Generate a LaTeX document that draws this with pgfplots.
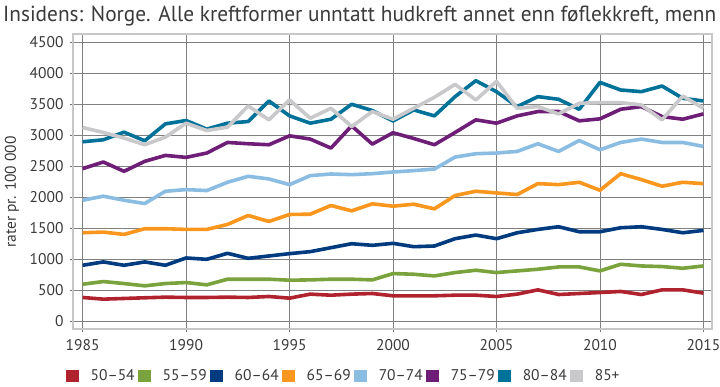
\documentclass[border=0pt]{standalone}
\usepackage{pgfplots}
\pgfplotsset{compat=1.18}
\usepackage{pgfplotstable}
\usepackage{fontspec}
\setmainfont{PT Sans}
\definecolor{cRed}{HTML}{B0232E}
\definecolor{cGreen}{HTML}{7AA33E}
\definecolor{cNavy}{HTML}{003B7F}
\definecolor{cOrange}{HTML}{F8961D}
\definecolor{cLight}{HTML}{8BBDE3}
\definecolor{cPurple}{HTML}{6E1E76}
\definecolor{cTeal}{HTML}{00729A}
\definecolor{cGray}{HTML}{C9C9CB}
\definecolor{txt}{HTML}{3A3A3A}

\pgfplotstableread{
year a5054 a5559 a6064 a6569 a7074 a7579 a8084 a85
1985 380 594 900 1425 1950 2460 2894 3124
1986 353 637 954 1436 2015 2567 2926 3044
1987 364 605 900 1398 1950 2417 3049 2953
1988 375 568 954 1490 1897 2578 2910 2846
1989 385 605 900 1490 2095 2674 3183 2969
1990 380 621 1018 1479 2122 2642 3237 3194
1991 380 584 996 1479 2106 2712 3098 3076
1992 385 675 1093 1559 2240 2883 3194 3130
1993 380 675 1012 1704 2336 2862 3221 3473
1994 396 675 1050 1607 2294 2846 3553 3248
1995 369 659 1088 1720 2202 2990 3312 3569
1996 434 664 1120 1725 2347 2937 3194 3274
1997 417 675 1184 1865 2374 2792 3258 3435
1998 434 675 1248 1779 2363 3151 3500 3140
1999 444 664 1222 1892 2379 2856 3398 3382
2000 407 766 1254 1854 2406 3040 3230 3258
2001 407 755 1200 1886 2428 2947 3408 3435
2002 407 728 1211 1811 2454 2846 3312 3612
2003 417 782 1329 2026 2647 3044 3623 3821
2004 417 820 1388 2095 2701 3248 3880 3569
2005 396 782 1329 2068 2712 3194 3703 3869
2006 434 809 1425 2042 2738 3312 3462 3435
2007 503 836 1479 2218 2862 3382 3623 3462
2008 428 873 1522 2202 2738 3382 3580 3344
2009 444 873 1441 2240 2915 3232 3419 3516
2010 460 809 1441 2111 2765 3264 3853 3526
2011 477 916 1506 2379 2883 3419 3730 3526
2012 428 889 1522 2283 2937 3462 3703 3489
2013 503 879 1479 2176 2883 3301 3794 3248
2014 503 852 1425 2240 2883 3258 3596 3633
2015 450 889 1463 2218 2819 3344 3553 3435
}\datatable

\begin{document}
\begin{tikzpicture}[x=1bp,y=1bp]
\path[use as bounding box] (0,0) rectangle (720,386);
\node[anchor=base west, inner sep=0pt, text=txt] at (3,364.3)
  {\resizebox{713bp}{15.5bp}{Insidens: Norge. Alle kreftformer unntatt hudkreft annet enn føflekkreft, menn}};
\begin{axis}[
  at={(72.7bp,57bp)}, anchor=south west,
  scale only axis, width=639bp, height=295bp,
  xmin=1984.52, xmax=2015.4, ymin=-129, ymax=4634,
  xtick={1985,1990,...,2015}, ytick={0,500,...,4500},
  xtick pos=bottom, ytick pos=left,
  tick align=outside, major tick length=3bp,
  tick style={black!55, line width=0.8bp},
  grid=major, grid style={black!50, line width=0.8bp},
  axis line style={draw=black!22, line width=1.6bp},
  /pgf/number format/assume math mode=true,
  /pgf/number format/1000 sep={},
  tick label style={font=\fontsize{15.5bp}{18bp}\selectfont, text=txt},
  yticklabel style={inner sep=0pt, xshift=-6bp},
  xticklabel style={inner sep=0pt, yshift=-7bp},
  legend columns=8,
  legend style={at={(-0.011,-0.159)}, anchor=west, draw=none, fill=none,
    inner sep=0pt, outer sep=0pt,
    font=\fontsize{15.5bp}{18bp}\selectfont, text=txt,
    nodes={inner sep=0pt},
    /tikz/every even column/.append style={column sep=3bp},
    /tikz/every odd column/.append style={column sep=12bp}},
  legend image code/.code={\fill[#1, draw=none] (0bp,-6bp) rectangle (13bp,6bp);},
  every axis plot/.append style={line width=3.6bp, line join=round, no markers},
]
\addplot[cRed] table[x=year,y=a5054]{\datatable};
\addlegendentry{50–54}
\addplot[cGreen] table[x=year,y=a5559]{\datatable};
\addlegendentry{55–59}
\addplot[cNavy] table[x=year,y=a6064]{\datatable};
\addlegendentry{60–64}
\addplot[cOrange] table[x=year,y=a6569]{\datatable};
\addlegendentry{65–69}
\addplot[cLight] table[x=year,y=a7074]{\datatable};
\addlegendentry{70–74}
\addplot[cPurple] table[x=year,y=a7579]{\datatable};
\addlegendentry{75–79}
\addplot[cTeal] table[x=year,y=a8084]{\datatable};
\addlegendentry{80–84}
\addplot[cGray] table[x=year,y=a85]{\datatable};
\addlegendentry{85+}
\end{axis}
\node[rotate=90, anchor=center, text=txt, font=\fontsize{15.5bp}{18bp}\selectfont] at (12,194) {rater pr. 100 000};
\end{tikzpicture}
\end{document}
